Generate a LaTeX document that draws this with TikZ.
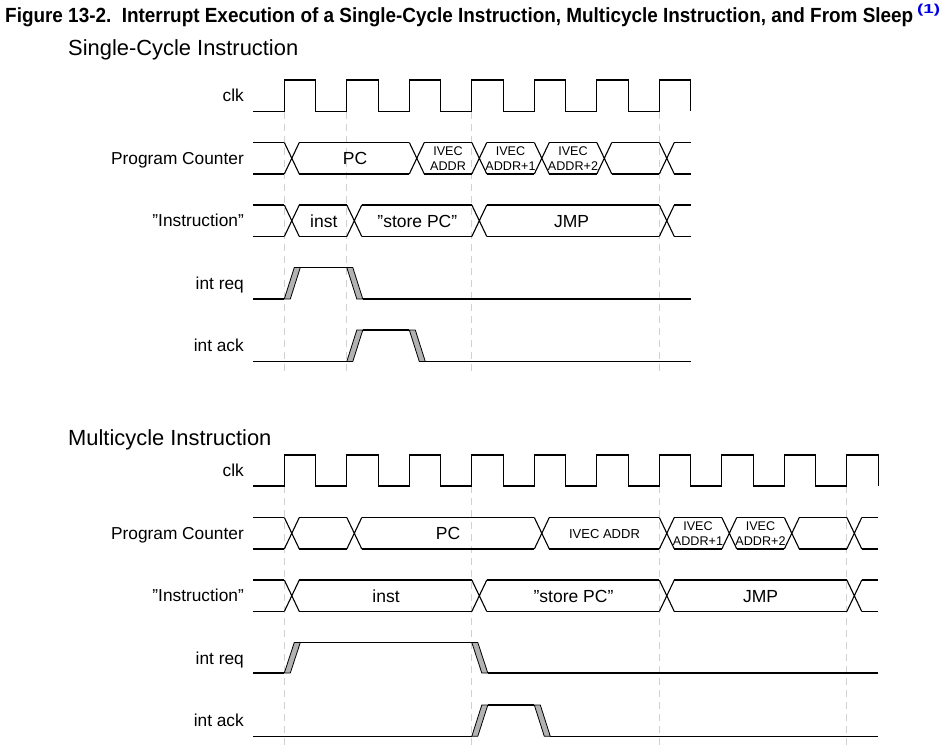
\documentclass[tikz,border=0pt]{standalone}
\usepackage{fontspec}
\setmainfont{Liberation Sans}
\usepackage{graphicx}
\definecolor{supblue}{RGB}{0,0,230}
\tikzset{
  sig/.style={line width=1.1pt, black},
  edgefill/.style={line width=0.8pt, draw=black, fill=black!30},
  guide/.style={line width=0.8pt, black!18, dash pattern=on 7pt off 5pt},
  lbl/.style={anchor=base east, inner sep=0pt, font=\fontsize{17.3}{20}\selectfont},
  buslbl/.style={anchor=base, inner sep=0pt, font=\fontsize{17.5}{20}\selectfont},
  smalllbl/.style={anchor=center, inner sep=0pt, align=center, font=\fontsize{12.6}{15}\selectfont},
  sectitle/.style={anchor=base west, inner sep=0pt, font=\fontsize{21.9}{25}\selectfont}
}
% clock: #1 high y, #2 low y, #3 list of pulse indices
\newcommand\clocksig[3]{%
  \draw[sig] (253,#2) \foreach \k in {#3}{ -- ({284.3+62.5*\k},#2) -- ({284.3+62.5*\k},#1) -- ({315.6+62.5*\k},#1) -- ({315.6+62.5*\k},#2)};
}
% bus: #1 top, #2 bottom, #3 start, #4 end, #5 transitions
\newcommand\bussig[5]{%
  \foreach \t [count=\i, remember=\t as \p (initially #3)] in {#5,#4}{%
    \ifnum\i=1 \def\s{#3}\else \pgfmathsetmacro\s{\p+15}\fi
    \draw[sig] (\s,#1)--(\t,#1) (\s,#2)--(\t,#2);
    \ifdim\t pt<#4pt \draw[sig] (\t,#1)--({\t+15},#2) (\t,#2)--({\t+15},#1);\fi
  }%
}
% pulse: #1 high, #2 low, #3 rise, #4 fall, #5 end
\newcommand\pulsesig[5]{%
  \draw[sig] (253,#2) -- (#3,#2);
  \filldraw[edgefill] (#3,#2) -- ({#3+6},#2) -- ({#3+16},#1) -- ({#3+10},#1) -- cycle;
  \draw[sig] ({#3+16},#1) -- (#4,#1);
  \filldraw[edgefill] (#4,#1) -- ({#4+6},#1) -- ({#4+16},#2) -- ({#4+10},#2) -- cycle;
  \draw[sig] ({#4+16},#2) -- (#5,#2);
}
\begin{document}
\begin{tikzpicture}[x=1pt,y=-1pt]
\useasboundingbox (0,0) rectangle (952,754);

% Title
\node[anchor=base west, inner sep=0pt] (title) at (5,22.5)
  {\resizebox{908pt}{\height}{\fontsize{20.5}{23}\selectfont\bfseries Figure 13-2.\ \ Interrupt Execution of a Single-Cycle Instruction, Multicycle Instruction, and From Sleep}};
\node[anchor=base west, inner sep=0pt, text=supblue] (titlesup) at (917,13.5)
  {\resizebox{23pt}{\height}{\fontsize{13}{15}\selectfont\bfseries (1)}};

% ---------------- Single-cycle ----------------
\node[sectitle] (sttl) at (68,56) {Single-Cycle Instruction};

\foreach \x in {284.3,346.8,471.8,659.3} \draw[guide] (\x,111.7) -- (\x,373);

\node[lbl] (sclk) at (244,101.7) {clk};
\node[lbl] (spc) at (244,164.2) {Program Counter};
\node[lbl] (sins) at (244,226.7) {”Instruction”};
\node[lbl] (sreq) at (244,289.2) {int req};
\node[lbl] (sack) at (244,351.7) {int ack};

\clocksig{80}{111.5}{0,...,6}
\bussig{142.5}{174}{253}{690.6}{284.3,409.3,471.8,534.3,596.8,659.3}
\bussig{205}{236.5}{253}{690.6}{284.3,346.8,471.8,659.3}
\pulsesig{267.5}{299}{284.3}{346.8}{690.6}
\pulsesig{330}{361.5}{346.8}{409.3}{690.6}

\node[buslbl] (spcv) at (355,164.5) {PC};
\node[smalllbl] (sivec) at (448,158.5) {IVEC\\ADDR};
\node[smalllbl] (sivec1) at (510.5,158.5) {IVEC\\ADDR+1};
\node[smalllbl] (sivec2) at (573,158.5) {IVEC\\ADDR+2};
\node[buslbl] (sinst) at (323.8,227) {inst};
\node[buslbl] (sstore) at (417.3,227) {”store PC”};
\node[buslbl] (sjmp) at (571.5,227) {JMP};

% ---------------- Multicycle ----------------
\node[sectitle] (mttl) at (68,445) {Multicycle Instruction};

\foreach \x in {284.3,471.8,659.3,846.8} \draw[guide] (\x,486) -- (\x,748);

\node[lbl] (mclk) at (244,476.7) {clk};
\node[lbl] (mpc) at (244,539.2) {Program Counter};
\node[lbl] (mins) at (244,601.7) {”Instruction”};
\node[lbl] (mreq) at (244,664.2) {int req};
\node[lbl] (mack) at (244,726.7) {int ack};

\clocksig{455}{486}{0,...,9}
\bussig{517.5}{549}{253}{878.1}{284.3,346.8,534.3,659.3,721.8,784.3,846.8}
\bussig{580}{611.5}{253}{878.1}{284.3,471.8,659.3,846.8}
\pulsesig{642.5}{673}{284.3}{471.8}{878.1}
\pulsesig{705}{736.3}{471.8}{534.3}{878.1}

\node[buslbl] (mpcv) at (448,539.5) {PC};
\node[anchor=base, inner sep=0pt, font=\fontsize{13}{15}\selectfont] (mivec) at (604.5,538.5) {IVEC ADDR};
\node[smalllbl] (mivec1) at (698,533.5) {IVEC\\ADDR+1};
\node[smalllbl] (mivec2) at (760.5,533.5) {IVEC\\ADDR+2};
\node[buslbl] (minst) at (386,602) {inst};
\node[buslbl] (mstore) at (573.5,602) {”store PC”};
\node[buslbl] (mjmp) at (760.5,602) {JMP};
\end{tikzpicture}
\end{document}
